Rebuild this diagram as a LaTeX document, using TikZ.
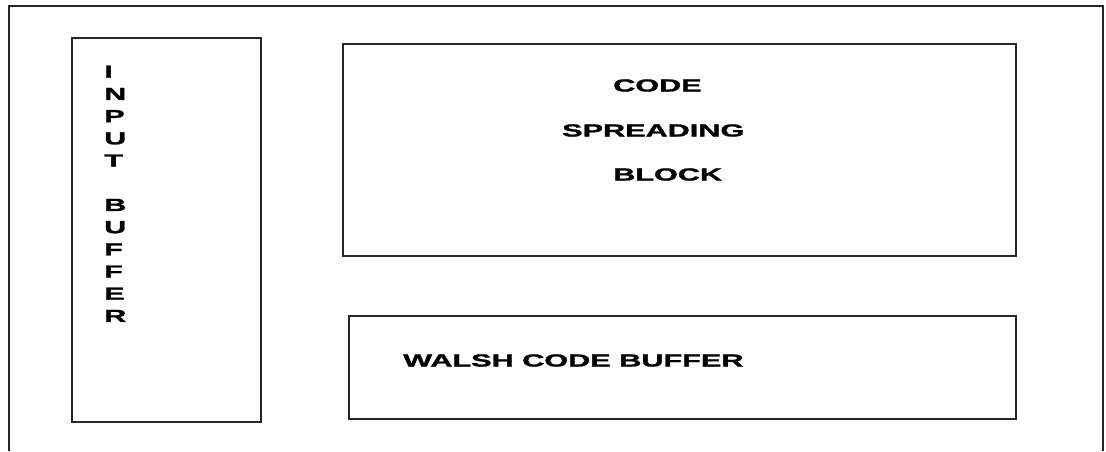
\documentclass[tikz,border=0pt]{standalone}
\usepackage{fontspec}
\usepackage{graphicx}
\setmainfont{Liberation Sans}[BoldFeatures={FakeBold=1.2}]
\newcommand\widetext[1]{\scalebox{1.75}[1]{#1}}
\begin{document}
\begin{tikzpicture}[x=1pt,y=-1pt,
  box/.style={draw=black!85,line width=2pt,inner sep=0pt},
  lbl/.style={inner sep=0pt,font=\fontsize{17.5}{22.2}\selectfont\bfseries}]
\useasboundingbox (0,0) rectangle (1106,451);
\coordinate (o1) at (9,451);
\coordinate (o2) at (9,6);
\coordinate (o3) at (1103,6);
\coordinate (o4) at (1103,451);
\draw[black!85,line width=2pt] (o1) -- (o2) -- (o3) -- (o4);
\node[box,minimum width=189pt,minimum height=384pt] (inbuf) at (166.5,230) {};
\node[box,minimum width=673pt,minimum height=212pt] (spread) at (679.5,150) {};
\node[box,minimum width=667pt,minimum height=103pt] (walsh) at (682.5,367.5) {};
\node[lbl,anchor=north west,align=left] (inlbl) at (104,65.5)
  {\widetext{I}\\\widetext{N}\\\widetext{P}\\\widetext{U}\\\widetext{T}\\[22.2pt]\widetext{B}\\\widetext{U}\\\widetext{F}\\\widetext{F}\\\widetext{E}\\\widetext{R}};
\node[lbl,anchor=base west] (l1) at (613,91.5) {\widetext{CODE}};
\node[lbl,anchor=base west] (l2) at (562,136.5) {\widetext{SPREADING}};
\node[lbl,anchor=base west] (l3) at (613,180.5) {\widetext{BLOCK}};
\node[lbl,anchor=base west] (l4) at (403,366.5) {\widetext{WALSH CODE BUFFER}};
\end{tikzpicture}
\end{document}
